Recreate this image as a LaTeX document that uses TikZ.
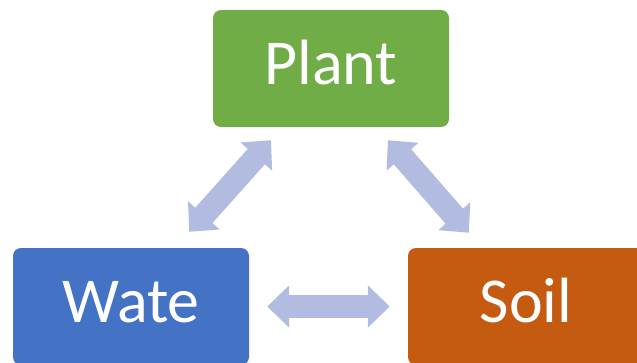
\documentclass[tikz,border=0pt]{standalone}
\usepackage{fontspec}
\newfontfamily\carl{Carlito}
\usetikzlibrary{arrows.meta,calc}
\definecolor{plantgreen}{HTML}{70AD47}
\definecolor{waterblue}{HTML}{4472C4}
\definecolor{soilorange}{HTML}{C55A11}
\definecolor{arrowlav}{RGB}{178,188,224}
\tikzset{
  box/.style={rectangle, rounded corners=8pt, minimum width=236pt, minimum height=117pt,
    inner sep=0pt, text=white, text height=40pt, text depth=7.8pt,
    font=\carl\fontsize{64}{64}\selectfont},
  bigarrow/.style={draw=arrowlav, line width=23pt,
    {Triangle[width=41pt,length=22pt,fill=arrowlav]}-{Triangle[width=41pt,length=22pt,fill=arrowlav]}}
}
\begin{document}
\begin{tikzpicture}[x=1pt,y=1pt]
\useasboundingbox (0,0) rectangle (637,362);
\clip (0,0) rectangle (637,362);
\node[box, fill=plantgreen] (plant) at (331,293.5) {Plant};
\node[box, fill=waterblue] (wate) at (131,55.5) {Wate};
\node[box, fill=soilorange] (soil) at (526,55.5) {Soil};
% arrow end points
\coordinate (pw) at ($(plant.south)+(-60,-13)$);
\coordinate (wp) at ($(wate.north east)+(-60,16)$);
\coordinate (ps) at ($(plant.south)+(57,-13)$);
\coordinate (sp) at ($(soil.north west)+(61,15)$);
\coordinate (ws) at ($(wate.east)+(18,0)$);
\coordinate (sw) at ($(soil.west)+(-18,0)$);
\draw[bigarrow] (pw) -- (wp);
\draw[bigarrow] (ps) -- (sp);
\draw[bigarrow] (ws) -- (sw);
\end{tikzpicture}
\end{document}
